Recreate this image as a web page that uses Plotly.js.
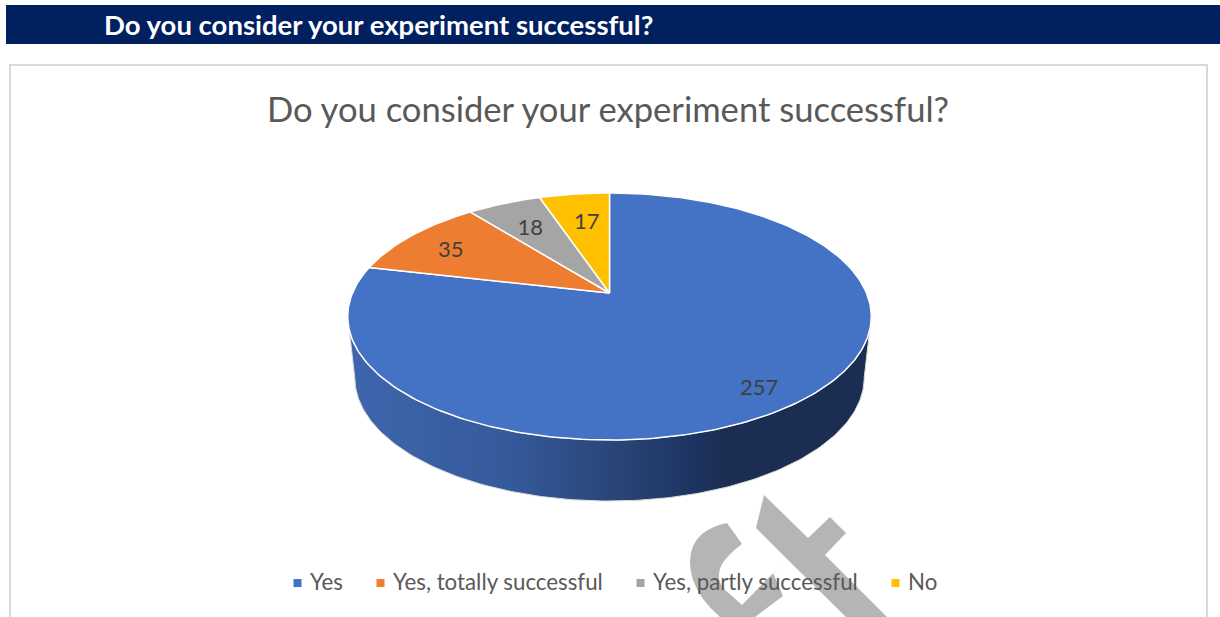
<!DOCTYPE html>
<html>
<head>
<meta charset="utf-8">
<script src="https://cdn.plot.ly/plotly-3.0.1.min.js"></script>
<style>html,body{margin:0;padding:0;background:#fff;overflow:hidden}#chart{width:1220px;height:617px}</style>
</head>
<body>
<div id="chart"></div>
<script>
const categories = ['Yes', 'Yes, totally successful', 'Yes, partly successful', 'No'];
const values = [257, 35, 18, 17];
const colors = ['#4472C4', '#ED7D31', '#A5A5A5', '#FFC000'];
const chartTitle = 'Do you consider your experiment successful?';

const FONT = 'Lato, Carlito, sans-serif';
const total = values.reduce((a, b) => a + b, 0);

// Perspective projection of the pie disc onto the page
const cx = 609.5, cy = 293, A = 119.03, B = 257, k = 0.1903, depth = 61, shrink = 0.973;
function project(rad, deg) {
  const t = deg * Math.PI / 180, u = rad * Math.sin(t), v = rad * Math.cos(t), d = 1 + k * v;
  return [cx + B * u / d, cy - A * v / d];
}
function arc(from, to) {
  const n = Math.max(2, Math.ceil(Math.abs(to - from)));
  const out = [];
  for (let i = 0; i <= n; i++) out.push(from + (to - from) * i / n);
  return out;
}

const traces = [];

// Side wall
const edgeDeg = Math.acos(-k) * 180 / Math.PI;
const sideTop = arc(edgeDeg, 360 - edgeDeg).map(a => project(1, a));
const sideBottom = arc(360 - edgeDeg, edgeDeg).map(a => {
  const p = project(1, a);
  return [cx + (p[0] - cx) * shrink, p[1] + depth];
});
const sideRing = sideTop.concat(sideBottom);
sideRing.push(sideTop[0]);
traces.push({
  type: 'scatter', mode: 'lines', x: sideRing.map(p => p[0]), y: sideRing.map(p => p[1]),
  fill: 'toself',
  fillgradient: {
    type: 'horizontal',
    colorscale: [[0, '#3F66AD'], [0.3, '#355A9C'], [0.5, '#2A4679'], [0.65, '#1E3563'], [0.72, '#1B2D52'], [1, '#1B2D52']]
  },
  line: {color: '#D9D9D9', width: 1}, hoverinfo: 'skip', showlegend: false
});

// Top face slices
let start = 0;
const labelX = [], labelY = [];
const labelNudge = [[-2, 8], [-11, 2], [1, 4], [4, 6]];
values.forEach((val, i) => {
  const sweep = val / total * 360;
  const pts = [[cx, cy]].concat(arc(start, start + sweep).map(a => project(1, a)));
  pts.push([cx, cy]);
  traces.push({
    type: 'scatter', mode: 'lines', x: pts.map(p => p[0]), y: pts.map(p => p[1]),
    fill: 'toself', fillcolor: colors[i], line: {color: '#FFFFFF', width: 1.5},
    name: categories[i], hoverinfo: 'skip', showlegend: false
  });
  const rad = val / total > 0.5 ? 0.83 : 0.73;
  const lp = project(rad, start + sweep / 2);
  labelX.push(lp[0] + labelNudge[i][0]); labelY.push(lp[1] + labelNudge[i][1]);
  start += sweep;
});

// Value labels
traces.push({
  type: 'scatter', mode: 'text', x: labelX, y: labelY, text: values.map(String),
  textposition: 'middle center', textfont: {family: FONT, size: 22, color: '#404040'},
  hoverinfo: 'skip', showlegend: false
});

// Legend
const legendMarkerX = [297.5, 380.5, 640.5, 895.5], legendY = 583;
traces.push({
  type: 'scatter', mode: 'markers', x: legendMarkerX, y: legendMarkerX.map(() => legendY),
  marker: {symbol: 'square', size: 8, color: colors}, hoverinfo: 'skip', showlegend: false
});
const legendNotes = categories.map((c, i) => ({
  xref: 'x', yref: 'y', x: legendMarkerX[i] + 10.5, y: legendY - 1.5, text: c, showarrow: false,
  xanchor: 'left', yanchor: 'middle', font: {family: FONT, size: 22.3, color: '#595959'}
}));

// Watermark fragments behind everything
const wmC = 'M 727 523 L 742 544 Q 727 555 721 566 Q 716 578 723 588 L 742 605 L 787 559 L 773 573 L 783 596 L 755 617 L 720 617 Q 700 600 693 580 Q 684 550 702 534 Q 712 526 727 523 Z';
const wmT = 'M 764 495 L 808 538 L 830 517 L 846 533 L 825 555 L 887 617 L 846 617 L 787 559 L 756 528 Z';

const layout = {
  width: 1220, height: 617, margin: {l: 0, r: 0, t: 0, b: 0},
  paper_bgcolor: '#FFFFFF', plot_bgcolor: '#FFFFFF', showlegend: false, hovermode: false,
  xaxis: {range: [0, 1220], visible: false, fixedrange: true},
  yaxis: {range: [617, 0], visible: false, fixedrange: true},
  title: {text: chartTitle, x: 608 / 1220, xanchor: 'center', y: 1 - 110 / 617, yanchor: 'middle',
    font: {family: FONT, size: 34.6, color: '#595959', weight: 400}},
  shapes: [
    {type: 'rect', xref: 'x', yref: 'y', x0: 6, x1: 1220, y0: 5, y1: 44, fillcolor: '#00205F', line: {width: 0}, layer: 'below'},
    {type: 'path', xref: 'x', yref: 'y', path: 'M 10 620 L 10 65 L 1207 65 L 1207 620', line: {color: '#D9D9D9', width: 2}, fillcolor: 'rgba(0,0,0,0)', layer: 'below'},
    {type: 'path', xref: 'x', yref: 'y', path: wmC, fillcolor: '#B5B5B5', line: {width: 0}, layer: 'below'},
    {type: 'path', xref: 'x', yref: 'y', path: wmT, fillcolor: '#B5B5B5', line: {width: 0}, layer: 'below'}
  ],
  annotations: [
    {xref: 'x', yref: 'y', x: 102, y: 24, text: '<b>' + chartTitle + '</b>', showarrow: false, xanchor: 'left', yanchor: 'middle',
      font: {family: FONT, size: 27.5, color: '#FFFFFF'}}
  ].concat(legendNotes)
};
Plotly.newPlot('chart', traces, layout, {displayModeBar: false, staticPlot: true});
</script>
</body>
</html>
